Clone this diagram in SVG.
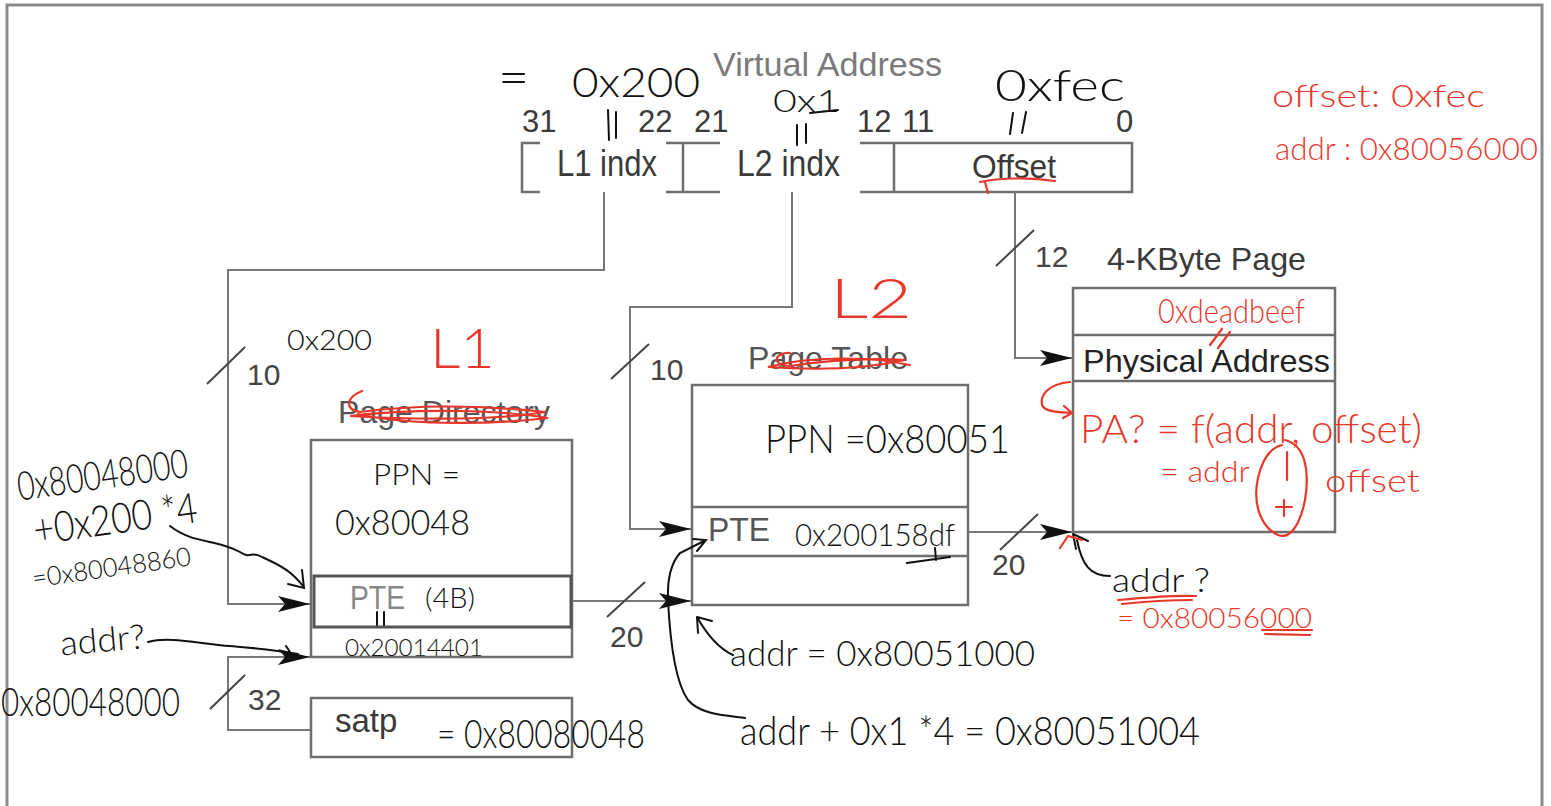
<svg xmlns="http://www.w3.org/2000/svg" width="1551" height="806" viewBox="0 0 1551 806">
<style>
.frame{fill:none;stroke:#8a8a8a;stroke-width:3}
.box{fill:none;stroke:#6e6e6e;stroke-width:2.5}
.conn{fill:none;stroke:#777;stroke-width:2}
.slash{stroke:#444;stroke-width:2}
.pt{font-family:"Liberation Sans",Arial,sans-serif;fill:#3a3a3a}
.pl{font-family:"Liberation Sans",Arial,sans-serif;fill:#444;font-size:30px}
.hw{font-family:Lato,"Open Sans",sans-serif;font-weight:300;fill:#111}
.hr{font-family:Lato,"Open Sans",sans-serif;font-weight:300;fill:#e8372a}
.ink{fill:none;stroke:#111;stroke-width:2;stroke-linecap:round}
.red{fill:none;stroke:#e8372a;stroke-width:2.2;stroke-linecap:round}
</style>
<defs>
<marker id="arr" markerUnits="userSpaceOnUse" markerWidth="34" markerHeight="18" refX="32" refY="9" orient="auto">
<path d="M0,1 L32,9 L0,17 L7,9 z" fill="#111"/>
</marker>
</defs>
<rect x="0" y="0" width="1551" height="806" fill="#fff"/>
<g id="frame">
<path class="frame" d="M7,806 V5 H1542 V806"/>
</g>

<g id="virtual-address">
<text class="pt" x="713" y="76" font-size="34" textLength="229" lengthAdjust="spacingAndGlyphs" style="fill:#7a7a7a">Virtual Address</text>
<text class="pt" x="522" y="132" font-size="31">31</text>
<text class="pt" x="638" y="132" font-size="31">22</text>
<text class="pt" x="694" y="132" font-size="31">21</text>
<text class="pt" x="857" y="132" font-size="31">12</text>
<text class="pt" x="902" y="132" font-size="31">11</text>
<text class="pt" x="1116" y="132" font-size="31">0</text>
<path class="box" d="M540,143 H522 V192 H540 M666,143 H720 M666,192 H720 M683,143 V192 M860,143 H1132 V192 H860 M894,143 V192"/>
<text class="pt" x="557" y="176" font-size="36" textLength="100" lengthAdjust="spacingAndGlyphs">L1 indx</text>
<text class="pt" x="737" y="176" font-size="36" textLength="103" lengthAdjust="spacingAndGlyphs">L2 indx</text>
<text class="pt" x="972" y="178" font-size="34" textLength="84" lengthAdjust="spacingAndGlyphs">Offset</text>
</g>

<g id="page-directory">
<text class="pt" x="338" y="423" font-size="32" textLength="212" lengthAdjust="spacingAndGlyphs" style="fill:#555">Page Directory</text>
<rect class="box" x="311" y="440" width="261" height="217"/>
<rect x="314" y="576" width="257" height="51" fill="none" stroke="#555" stroke-width="3"/>
<text class="pt" x="350" y="609" font-size="34" textLength="55" lengthAdjust="spacingAndGlyphs" style="fill:#888">PTE</text>
</g>

<g id="satp">
<rect class="box" x="311" y="698" width="261" height="59"/>
<text class="pt" x="335" y="732" font-size="33">satp</text>
</g>

<g id="page-table">
<text class="pt" x="748" y="369" font-size="32" textLength="160" lengthAdjust="spacingAndGlyphs" style="fill:#555">Page Table</text>
<rect class="box" x="692" y="385" width="276" height="220"/>
<path class="box" d="M692,507 H968 M692,556 H968" stroke="#999"/>
<text class="pt" x="708" y="541" font-size="33" textLength="62" lengthAdjust="spacingAndGlyphs" style="fill:#555">PTE</text>
</g>

<g id="page-4k">
<text class="pt" x="1107" y="270" font-size="32" textLength="199" lengthAdjust="spacingAndGlyphs">4-KByte Page</text>
<rect class="box" x="1073" y="288" width="262" height="244"/>
<path class="box" d="M1073,335 H1335 M1073,381 H1335" stroke="#999"/>
<text class="pt" x="1083" y="372" font-size="32" textLength="247" lengthAdjust="spacingAndGlyphs" style="fill:#222">Physical Address</text>
</g>

<g id="connectors">
<path class="conn" d="M604,192 V270 H228 V604 H310" marker-end="url(#arr)"/>
<path class="conn" d="M792,192 V307 H630 V529 H691" marker-end="url(#arr)"/>
<path class="conn" d="M1015,192 V358 H1072" marker-end="url(#arr)"/>
<path class="conn" d="M572,601 H691" marker-end="url(#arr)"/>
<path class="conn" d="M968,532 H1072" marker-end="url(#arr)"/>
<path class="conn" d="M311,730 H228 V657 H310" marker-end="url(#arr)"/>
<line class="slash" x1="207" y1="384" x2="245" y2="347"/>
<line class="slash" x1="611" y1="379" x2="649" y2="344"/>
<line class="slash" x1="996" y1="266" x2="1034" y2="230"/>
<line class="slash" x1="607" y1="617" x2="645" y2="582"/>
<line class="slash" x1="1000" y1="550" x2="1038" y2="514"/>
<line class="slash" x1="210" y1="709" x2="245" y2="675"/>
<text class="pl" x="247" y="385">10</text>
<text class="pl" x="650" y="380">10</text>
<text class="pl" x="1035" y="267">12</text>
<text class="pl" x="610" y="647">20</text>
<text class="pl" x="992" y="575">20</text>
<text class="pl" x="248" y="710">32</text>
</g>

<g id="notes-black">
<text class="hw" x="498" y="96" font-size="54">=</text>
<text class="hw" x="572" y="97" font-size="42" textLength="128" lengthAdjust="spacingAndGlyphs">0x200</text>
<path class="ink" d="M608,110 L609,140 M616,112 L616,138"/>
<text class="hw" x="773" y="112" font-size="32" textLength="67" lengthAdjust="spacingAndGlyphs">0x1</text>
<path class="ink" d="M810,113 L838,110 M797,125 L797,145 M806,124 L806,143"/>
<text class="hw" x="995" y="101" font-size="44" textLength="130" lengthAdjust="spacingAndGlyphs">0xfec</text>
<path class="ink" d="M1010,134 L1013,113 M1022,133 L1026,112"/>
<text class="hw" x="287" y="350" font-size="28" textLength="85" lengthAdjust="spacingAndGlyphs">0x200</text>

<g transform="rotate(-8 110 500)">
<text class="hw" x="20" y="488" font-size="40" textLength="172" lengthAdjust="spacingAndGlyphs">0x80048000</text>
<text class="hw" x="30" y="534" font-size="42" textLength="165" lengthAdjust="spacingAndGlyphs">+0x200 *4</text>
<text class="hw" x="22" y="576" font-size="26" textLength="160" lengthAdjust="spacingAndGlyphs">=0x80048860</text>
</g>
<path class="ink" d="M170,526 C195,545 215,538 240,552 C252,560 250,550 262,557 C282,566 292,572 303,586 M288,584 L304,588 L302,570"/>
<text class="hw" x="373" y="485" font-size="30" textLength="87" lengthAdjust="spacingAndGlyphs">PPN =</text>
<text class="hw" x="335" y="535" font-size="36" textLength="135" lengthAdjust="spacingAndGlyphs">0x80048</text>
<text class="hw" x="425" y="608" font-size="28" textLength="50" lengthAdjust="spacingAndGlyphs">(4B)</text>
<path class="ink" d="M377,612 L377,625 M384,612 L384,625" stroke-width="1.6"/>
<text class="hw" x="345" y="656" font-size="24" textLength="138" lengthAdjust="spacingAndGlyphs">0x20014401</text>
<text class="hw" x="60" y="652" font-size="34" textLength="85" lengthAdjust="spacingAndGlyphs" transform="rotate(-5 100 640)">addr?</text>
<path class="ink" d="M148,642 C170,636 200,644 230,646 C255,648 275,650 298,654 M286,646 L290,652"/>
<text class="hw" x="1" y="716" font-size="40" textLength="179" lengthAdjust="spacingAndGlyphs">0x80048000</text>
<text class="hw" x="437" y="748" font-size="40" textLength="208" lengthAdjust="spacingAndGlyphs">= 0x80080048</text>

<text class="hw" x="765" y="453" font-size="40" textLength="245" lengthAdjust="spacingAndGlyphs">PPN =0x80051</text>
<text class="hw" x="795" y="546" font-size="32" textLength="160" lengthAdjust="spacingAndGlyphs">0x200158df</text>
<path class="ink" d="M907,563 L950,557 M935,548 L936,560" stroke-width="4"/>
<path class="ink" d="M745,718 C722,715 700,714 688,700 C675,682 670,640 668,600 C667,575 672,562 680,553 L706,540 M693,539 L706,540 L697,551"/>
<text class="hw" x="730" y="666" font-size="36" textLength="305" lengthAdjust="spacingAndGlyphs">addr = 0x80051000</text>
<path class="ink" d="M733,655 C722,650 710,640 697,617 M697,617 L698,633 M697,617 L712,621"/>
<text class="hw" x="740" y="745" font-size="40" textLength="460" lengthAdjust="spacingAndGlyphs">addr + 0x1 *4 = 0x80051004</text>
<text class="hw" x="1112" y="592" font-size="34" textLength="98" lengthAdjust="spacingAndGlyphs">addr ?</text>
<path class="ink" d="M1110,576 C1090,576 1082,565 1077,540 M1073,534 L1076,549 M1073,534 L1088,541"/>
</g>

<g id="notes-red">
<text class="hr" x="1272" y="107" font-size="32" textLength="213" lengthAdjust="spacingAndGlyphs">offset: 0xfec</text>
<text class="hr" x="1275" y="160" font-size="32" textLength="263" lengthAdjust="spacingAndGlyphs">addr : 0x80056000</text>
<path class="red" d="M980,182 C1000,178 1030,177 1055,181 M985,182 L988,193"/>
<text class="hr" x="430" y="368" font-size="56" textLength="65" lengthAdjust="spacingAndGlyphs">L1</text>
<text class="hr" x="830" y="318" font-size="56" textLength="82" lengthAdjust="spacingAndGlyphs">L2</text>
<path class="red" d="M362,391 C345,398 345,410 360,412 C420,404 480,405 545,412 C500,420 420,420 350,416 C420,408 500,410 548,418 C480,426 400,424 358,414"/>
<path class="red" d="M790,353 C775,352 770,365 790,366 C830,360 870,358 905,360 C860,370 810,370 768,367 C810,356 870,356 910,365"/>
<text class="hr" x="1158" y="323" font-size="34" textLength="147" lengthAdjust="spacingAndGlyphs">0xdeadbeef</text>
<path class="red" d="M1210,345 L1222,329 M1218,348 L1230,332"/>
<path class="red" d="M1070,382 C1048,384 1040,395 1042,405 C1045,412 1058,412 1072,413 M1064,406 L1072,413 L1063,418"/>
<text class="hr" x="1080" y="443" font-size="40" textLength="342" lengthAdjust="spacingAndGlyphs">PA? = f(addr, offset)</text>
<text class="hr" x="1160" y="482" font-size="30" textLength="90" lengthAdjust="spacingAndGlyphs">= addr</text>
<path class="red" d="M1287,452 L1287,480" stroke-width="5"/>
<path class="red" d="M1284,500 L1284,516 M1276,507 L1292,507"/>
<path class="red" d="M1285,440 C1305,445 1310,470 1305,500 C1300,525 1290,540 1278,535 C1262,528 1252,505 1258,478 C1262,460 1270,448 1282,445"/>
<text class="hr" x="1325" y="492" font-size="32" textLength="95" lengthAdjust="spacingAndGlyphs">offset</text>
<path class="red" d="M1060,548 L1068,536 L1082,540"/>
<path class="red" d="M1118,600 C1150,597 1175,595 1196,596 M1122,604 C1150,601 1175,600 1192,600"/>
<text class="hr" x="1117" y="628" font-size="28" textLength="195" lengthAdjust="spacingAndGlyphs">= 0x80056000</text>
<path class="red" d="M1262,630 L1312,630 M1265,634 L1310,635"/>
</g>
</svg>
